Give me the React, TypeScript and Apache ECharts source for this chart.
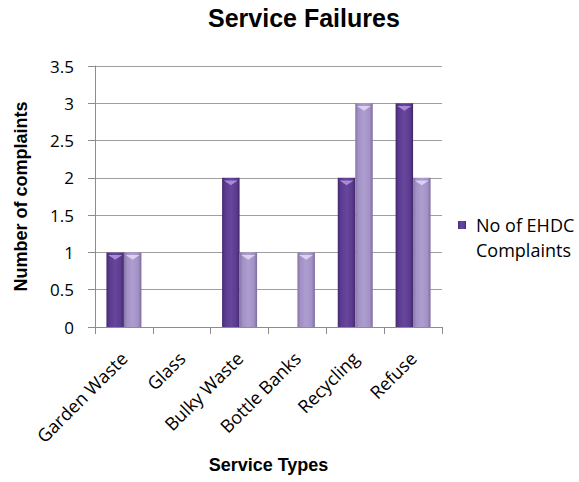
import React, { useEffect, useRef } from "react";
import * as echarts from "echarts";

// Service categories on the x axis
const categories = ["Garden Waste", "Glass", "Bulky Waste", "Bottle Banks", "Recycling", "Refuse"];
// Complaints per service type
const ehdcComplaints = [1, 0, 2, 0, 2, 3];
const otherComplaints = [1, 0, 1, 1, 3, 2];
// Value axis range
const yMin = 0;
const yMax = 3.5;
const yStep = 0.5;

const BODY_FONT = '"Open Sans", "Liberation Sans", sans-serif';
const HEAD_FONT = '"Liberation Sans", Arial, sans-serif';

const darkFill = new echarts.graphic.LinearGradient(0, 0, 1, 0, [
  { offset: 0, color: "#46296f" },
  { offset: 0.18, color: "#5b3b8f" },
  { offset: 0.5, color: "#67479c" },
  { offset: 0.82, color: "#5b3b8f" },
  { offset: 1, color: "#42276a" },
]);
const lightFill = new echarts.graphic.LinearGradient(0, 0, 1, 0, [
  { offset: 0, color: "#8676a8" },
  { offset: 0.18, color: "#a291c4" },
  { offset: 0.5, color: "#ae9ed0" },
  { offset: 0.82, color: "#a291c4" },
  { offset: 1, color: "#7d6d9e" },
]);

// Small bevel highlight on top of each non-empty bar
const capData = (vals: number[]) => vals.map((v) => (v > 0 ? v : "-"));

export default function App() {
  const ref = useRef<HTMLDivElement>(null);

  useEffect(() => {
    if (!ref.current) return;
    const chart = echarts.init(ref.current, undefined, { renderer: "svg" });
    chart.setOption({
      animation: false,
      backgroundColor: "#ffffff",
      title: {
        text: "Service Failures",
        left: 208,
        top: 5,
        padding: 0,
        textStyle: { fontFamily: HEAD_FONT, fontWeight: "bold", fontSize: 25, color: "#000" },
      },
      legend: {
        data: ["No of EHDC Complaints"],
        left: 458,
        top: 216,
        padding: 0,
        orient: "vertical",
        icon: "rect",
        itemWidth: 8,
        itemHeight: 8,
        formatter: () => "{a|No of EHDC}\n{a|Complaints}",
        textStyle: {
          padding: [25, 0, 0, 5],
          rich: {
            a: { fontFamily: BODY_FONT, fontSize: 18, lineHeight: 25, color: "#000" },
          },
        },
      },
      grid: { left: 95, top: 66, width: 347, height: 261, containLabel: false, outerBoundsMode: "none" },
      xAxis: {
        type: "category",
        data: categories,
        name: "Service Types",
        nameLocation: "middle",
        nameGap: 129,
        nameTextStyle: { fontFamily: HEAD_FONT, fontWeight: "bold", fontSize: 18, color: "#000" },
        axisLine: { lineStyle: { color: "#8c8c8c" } },
        axisTick: { show: true, length: 7, alignWithLabel: false, lineStyle: { color: "#8c8c8c" } },
        axisLabel: {
          rotate: 45,
          interval: 0,
          margin: 28,
          fontFamily: BODY_FONT,
          fontSize: 18,
          color: "#000",
        },
      },
      yAxis: {
        type: "value",
        min: yMin,
        max: yMax,
        interval: yStep,
        name: "Number of complaints",
        nameLocation: "middle",
        nameGap: 65,
        nameRotate: 90,
        nameTextStyle: { fontFamily: HEAD_FONT, fontWeight: "bold", fontSize: 18, color: "#000" },
        axisLine: { show: true, lineStyle: { color: "#8c8c8c" } },
        axisTick: { show: true, length: 7, inside: false, lineStyle: { color: "#8c8c8c" } },
        axisLabel: { margin: 21, fontFamily: BODY_FONT, fontSize: 17, color: "#000" },
        splitLine: { lineStyle: { color: "#9f9f9f", width: 1 } },
      },
      series: [
        {
          name: "No of EHDC Complaints",
          type: "bar",
          data: ehdcComplaints,
          barWidth: 17.5,
          barGap: "0%",
          itemStyle: { color: darkFill },
        },
        {
          name: "Other Complaints",
          type: "bar",
          data: otherComplaints,
          barWidth: 17.5,
          barGap: "0%",
          itemStyle: { color: lightFill },
        },
        {
          name: "EHDC caps",
          type: "pictorialBar",
          data: capData(ehdcComplaints),
          symbol: "triangle",
          symbolRotate: 180,
          symbolSize: [14, 5],
          symbolPosition: "end",
          symbolOffset: ["-62%", "50%"],
          itemStyle: { color: "#a88ad8" },
          silent: true,
          z: 5,
        },
        {
          name: "Other caps",
          type: "pictorialBar",
          data: capData(otherComplaints),
          symbol: "triangle",
          symbolRotate: 180,
          symbolSize: [14, 5],
          symbolPosition: "end",
          symbolOffset: ["62%", "50%"],
          itemStyle: { color: "#ddd0f2" },
          silent: true,
          z: 5,
        },
      ],
    });
    return () => chart.dispose();
  }, []);

  return (
    <div
      ref={ref}
      style={{ position: "fixed", left: 0, top: 0, width: 579, height: 482 }}
    />
  );
}
